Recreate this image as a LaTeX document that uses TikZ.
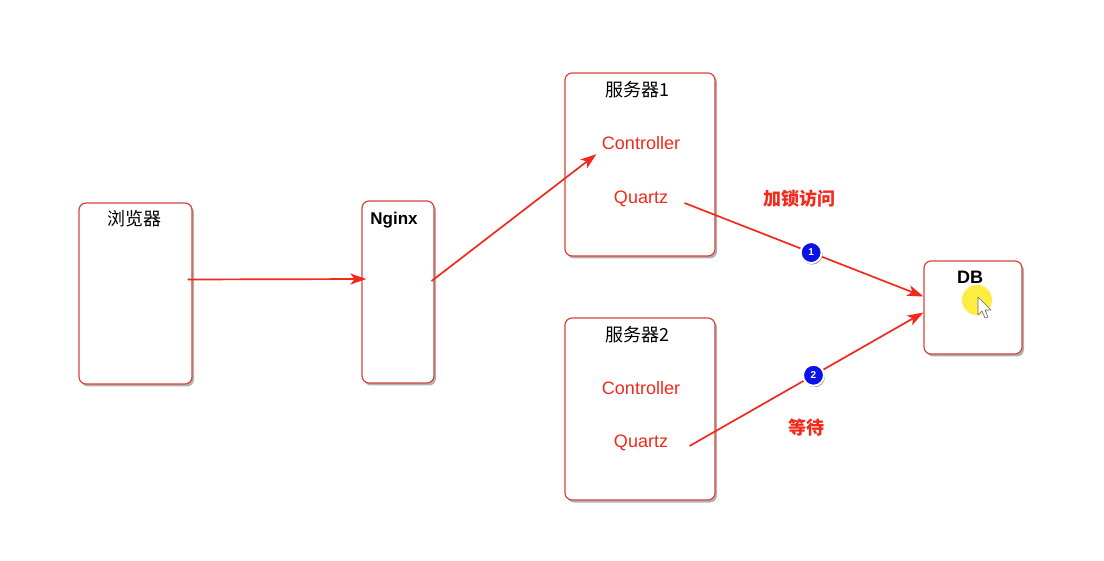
\documentclass[tikz,border=0pt]{standalone}
\usepackage{fontspec}
\setmainfont{Liberation Sans}
\newfontfamily\cjk{Noto Sans CJK SC}
\usetikzlibrary{arrows.meta,shadows}
\definecolor{boxred}{HTML}{D8443C}
\definecolor{linered}{HTML}{F2291B}
\definecolor{numblue}{HTML}{0A12E8}
\begin{document}
\begin{tikzpicture}[x=1pt,y=-1pt,
    box/.style={draw=boxred,fill=white,rounded corners=7pt,line width=1.2pt,
        drop shadow={shadow xshift=2pt,shadow yshift=-2.5pt,fill=black,opacity=0.3}},
    title/.style={font=\cjk\fontsize{18}{20}\selectfont,text=black},
    part/.style={font=\fontsize{18}{20}\selectfont,text=linered},
    note/.style={font=\cjk\bfseries\fontsize{18}{20}\selectfont,text=linered},
    arr/.style={draw=linered,line width=1.7pt,-{Stealth[length=16pt,width=11pt,inset=4pt]}},
    num/.style={circle,fill=numblue,draw=white,line width=2pt,minimum size=21pt,inner sep=0pt,
        font=\bfseries\fontsize{10}{10}\selectfont,text=white,
        drop shadow={shadow xshift=1pt,shadow yshift=-1.5pt,fill=black,opacity=0.45}}]
    \useasboundingbox (0,0) rectangle (1104,561);

    % boxes
    \node[box,minimum width=113pt,minimum height=181pt] (browser) at (135.5,293.5) {};
    \node[box,minimum width=72pt,minimum height=182pt] (nginx) at (398,292) {};
    \node[box,minimum width=150pt,minimum height=183pt] (server1) at (640,164.5) {};
    \node[box,minimum width=150pt,minimum height=182pt] (server2) at (640,409) {};
    \node[box,minimum width=98pt,minimum height=93pt] (db) at (973,307.5) {};

    % titles
    \node[title] (browsertitle) at (134,219) {浏览器};
    \node[title,font=\bfseries\fontsize{17}{20}\selectfont] (nginxtitle) at (394,220) {Nginx};
    \node[title] (server1title) at (637,90) {服务器1};
    \node[title] (server2title) at (637,335) {服务器2};
    \node[title,font=\bfseries\fontsize{18}{20}\selectfont] (dbtitle) at (970,277) {DB};

    % parts of the servers
    \node[part] (ctrl1) at (641,143) {Controller};
    \node[part] (quartz1) at (641,199) {Quartz};
    \node[part] (ctrl2) at (641,388) {Controller};
    \node[part] (quartz2) at (641,443) {Quartz};

    % arrows
    \draw[arr] ([xshift=-5pt,yshift=14pt]browser.east) -- ([xshift=5pt,yshift=13pt]nginx.west);
    \draw[arr] ([xshift=-3pt,yshift=11pt]nginx.east) -- ([xshift=-2pt,yshift=-1pt]ctrl1.south west);
    \draw[arr] ([xshift=13pt,yshift=-4pt]quartz1.east) -- ([yshift=11pt]db.west)
        node[num,pos=0.53] (lock1) {1};
    \draw[arr] ([xshift=18pt,yshift=-3pt]quartz2.east) -- ([yshift=-5pt]db.west)
        node[num,pos=0.53] (lock2) {2};

    \node[note] (locknote) at (799,199) {加锁访问};
    \node[note] (waitnote) at (806,428) {等待};

    % mouse pointer
    \fill[yellow!90!orange,opacity=0.75] (977,300) circle (15);
    \draw[black!60,fill=white,line width=0.6pt,line join=round]
        (978,297) -- (978,315) -- (982,311) -- (985,318) -- (988,317) -- (985,310) -- (991,310) -- cycle;
\end{tikzpicture}
\end{document}
